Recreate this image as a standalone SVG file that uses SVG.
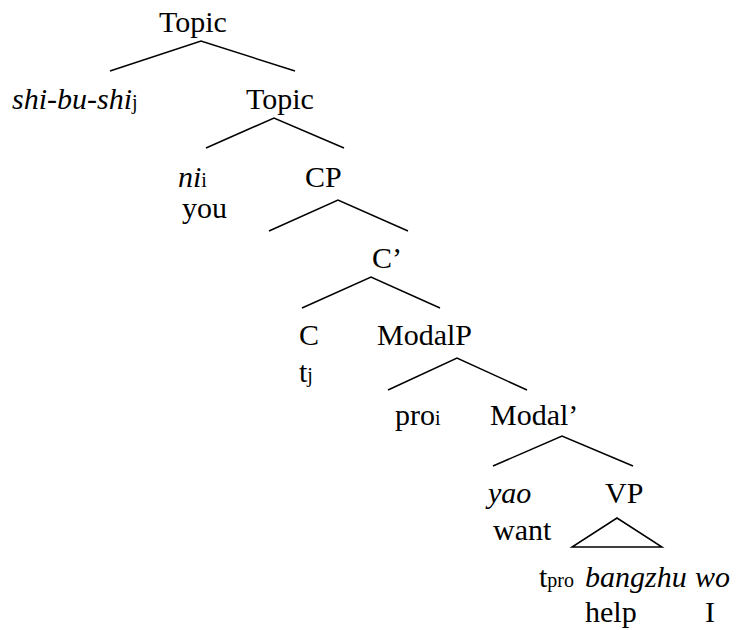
<svg xmlns="http://www.w3.org/2000/svg" width="739" height="630" viewBox="0 0 739 630">
<style>
text{font-family:'Liberation Serif','Times New Roman','DejaVu Serif',serif;font-size:30px;fill:#000}
.it{font-style:italic}
.sub{font-size:20px;font-style:normal}
.edge{stroke:#000;stroke-width:1.5;fill:none}
</style>
<rect width="739" height="630" fill="#fff"/>
<g id="connectors">
<polyline class="edge" points="110,71 201,41 295,71"/>
<polyline class="edge" points="206,148 274,118 344,148"/>
<polyline class="edge" points="269,231 338,200 408,231"/>
<polyline class="edge" points="302,308 371,277 440,308"/>
<polyline class="edge" points="388,390 457,358 527,390"/>
<polyline class="edge" points="493,466 562,436 633,466"/>
<polygon class="edge" points="617,518 572,547 662,547"/>
</g>
<g id="topic1"><text x="159" y="32">Topic</text></g>
<g id="shibushi"><text x="12" y="109" class="it">shi-bu-shi<tspan class="sub">j</tspan></text></g>
<g id="topic2"><text x="246" y="109">Topic</text></g>
<g id="ni"><text x="178" y="187" class="it">ni<tspan class="sub">i</tspan></text><text x="182" y="218">you</text></g>
<g id="cp"><text x="305" y="187">CP</text></g>
<g id="cbar"><text x="372" y="268">C’</text></g>
<g id="c"><text x="299" y="345">C</text><text x="299" y="382">t<tspan class="sub">j</tspan></text></g>
<g id="modalp"><text x="377" y="345">ModalP</text></g>
<g id="pro"><text x="395" y="425">pro<tspan class="sub">i</tspan></text></g>
<g id="modalbar"><text x="490" y="425">Modal’</text></g>
<g id="yao"><text x="488" y="503" class="it">yao</text><text x="493" y="540">want</text></g>
<g id="vp"><text x="605" y="503">VP</text></g>
<g id="vp-content">
<text x="539" y="587">t<tspan class="sub">pro</tspan></text>
<text x="585" y="587" class="it">bangzhu</text>
<text x="695" y="587" class="it">wo</text>
<text x="585" y="622">help</text>
<text x="705" y="622">I</text>
</g>
</svg>
